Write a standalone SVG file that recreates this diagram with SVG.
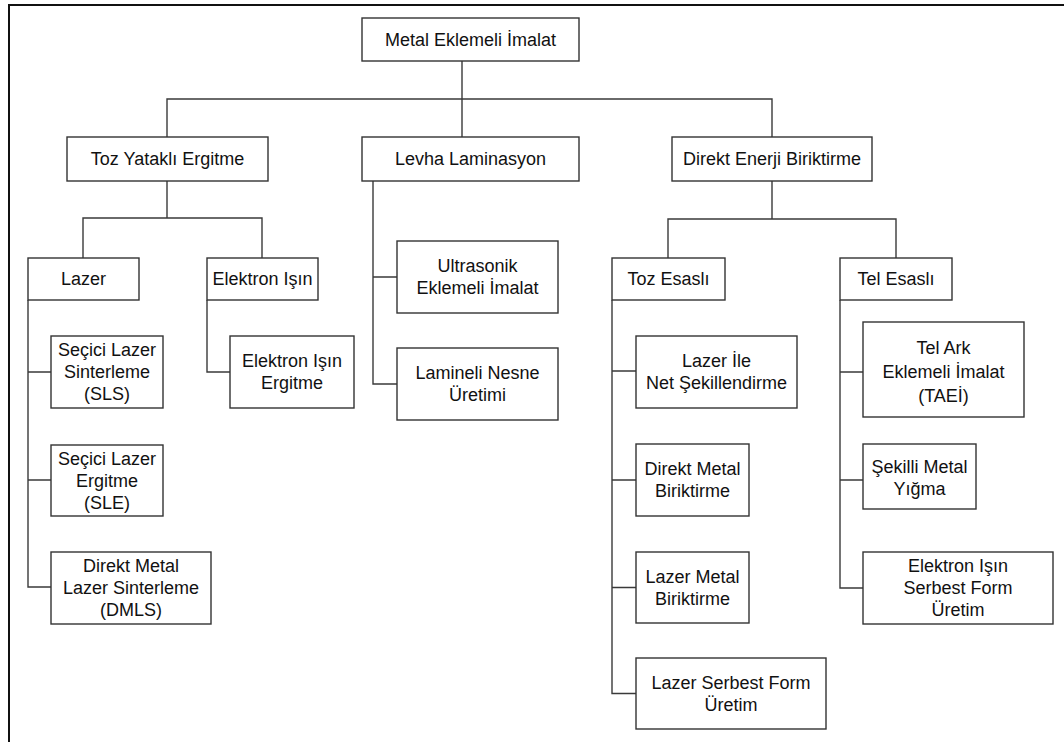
<svg xmlns="http://www.w3.org/2000/svg" width="1064" height="742" viewBox="0 0 1064 742">
<style>
.frame{fill:none;stroke:#111;stroke-width:2}
.box{fill:#fff;stroke:#333;stroke-width:1.4}
.conn{fill:none;stroke:#3a3a3a;stroke-width:1.4}
text{font-family:"Liberation Sans",Arial,sans-serif;font-size:18px;fill:#111;text-anchor:middle}
</style>
<rect width="1064" height="742" fill="#fff"/>
<path class="frame" d="M9,742 V5 H1064"/>
<g id="connectors">
<path class="conn" d="M462,61 V137 M167,137 V99 H772 V137"/>
<path class="conn" d="M167,181 V218 M83,258 V218 H262 V258"/>
<path class="conn" d="M28,300 V587 H51 M28,372 H51 M28,480 H51"/>
<path class="conn" d="M207,300 V372 H230"/>
<path class="conn" d="M373,181 V384 H397 M373,277 H397"/>
<path class="conn" d="M772,181 V219 M668,258 V219 H896 V258"/>
<path class="conn" d="M612,300 V693.5 H636 M612,371 H636 M612,480 H636 M612,587.5 H636"/>
<path class="conn" d="M840,300 V588 H863 M840,372 H863 M840,480 H863"/>
</g>
<g id="root"><rect class="box" x="362" y="18" width="217" height="43"/><text x="470.5" y="46">Metal Eklemeli İmalat</text></g>
<g id="toz-yatakli"><rect class="box" x="67" y="137" width="201" height="44"/><text x="167.5" y="165.3">Toz Yataklı Ergitme</text></g>
<g id="levha"><rect class="box" x="362" y="137" width="217" height="44"/><text x="470.5" y="165.3">Levha Laminasyon</text></g>
<g id="direkt-enerji"><rect class="box" x="672" y="137" width="200" height="44"/><text x="772" y="165.3">Direkt Enerji Biriktirme</text></g>
<g id="lazer"><rect class="box" x="28" y="258" width="111" height="42"/><text x="83.5" y="285.3">Lazer</text></g>
<g id="elektron-isin"><rect class="box" x="207" y="258" width="111" height="42"/><text x="262.5" y="285.3">Elektron Işın</text></g>
<g id="sls"><rect class="box" x="51" y="336" width="112" height="72"/><text x="107" y="356.3">Seçici Lazer</text><text x="107" y="378.3">Sinterleme</text><text x="107" y="400.3">(SLS)</text></g>
<g id="sle"><rect class="box" x="51" y="445" width="112" height="71"/><text x="107" y="464.8">Seçici Lazer</text><text x="107" y="486.8">Ergitme</text><text x="107" y="508.8">(SLE)</text></g>
<g id="dmls"><rect class="box" x="51" y="552" width="160" height="72"/><text x="131" y="572.3">Direkt Metal</text><text x="131" y="594.3">Lazer Sinterleme</text><text x="131" y="616.3">(DMLS)</text></g>
<g id="ebm"><rect class="box" x="230" y="336" width="124" height="72"/><text x="292" y="367.3">Elektron Işın</text><text x="292" y="389.3">Ergitme</text></g>
<g id="ultrasonik"><rect class="box" x="397" y="241" width="161" height="72"/><text x="477.5" y="272.3">Ultrasonik</text><text x="477.5" y="294.3">Eklemeli İmalat</text></g>
<g id="lamineli"><rect class="box" x="397" y="348" width="161" height="72"/><text x="477.5" y="379.3">Lamineli Nesne</text><text x="477.5" y="401.3">Üretimi</text></g>
<g id="toz-esasli"><rect class="box" x="612" y="258" width="113" height="42"/><text x="668.5" y="285.3">Toz Esaslı</text></g>
<g id="tel-esasli"><rect class="box" x="840" y="258" width="112" height="42"/><text x="896" y="285.3">Tel Esaslı</text></g>
<g id="lens"><rect class="box" x="636" y="336" width="161" height="72"/><text x="716.5" y="367.3">Lazer İle</text><text x="716.5" y="389.3">Net Şekillendirme</text></g>
<g id="dmd"><rect class="box" x="636" y="444" width="113" height="72"/><text x="692.5" y="475.3">Direkt Metal</text><text x="692.5" y="497.3">Biriktirme</text></g>
<g id="lmd"><rect class="box" x="636" y="552" width="113" height="71"/><text x="692.5" y="582.8">Lazer Metal</text><text x="692.5" y="604.8">Biriktirme</text></g>
<g id="lsf"><rect class="box" x="636" y="658" width="190" height="71"/><text x="731" y="688.8">Lazer Serbest Form</text><text x="731" y="710.8">Üretim</text></g>
<g id="tel-ark"><rect class="box" x="863" y="322" width="161" height="95"/><text x="943.5" y="354">Tel Ark</text><text x="943.5" y="378">Eklemeli İmalat</text><text x="943.5" y="402">(TAEİ)</text></g>
<g id="sekilli"><rect class="box" x="863" y="444" width="113" height="65"/><text x="919.5" y="473">Şekilli Metal</text><text x="919.5" y="495">Yığma</text></g>
<g id="ebf"><rect class="box" x="863" y="552" width="190" height="72"/><text x="958" y="572.3">Elektron Işın</text><text x="958" y="594.3">Serbest Form</text><text x="958" y="616.3">Üretim</text></g>
</svg>
